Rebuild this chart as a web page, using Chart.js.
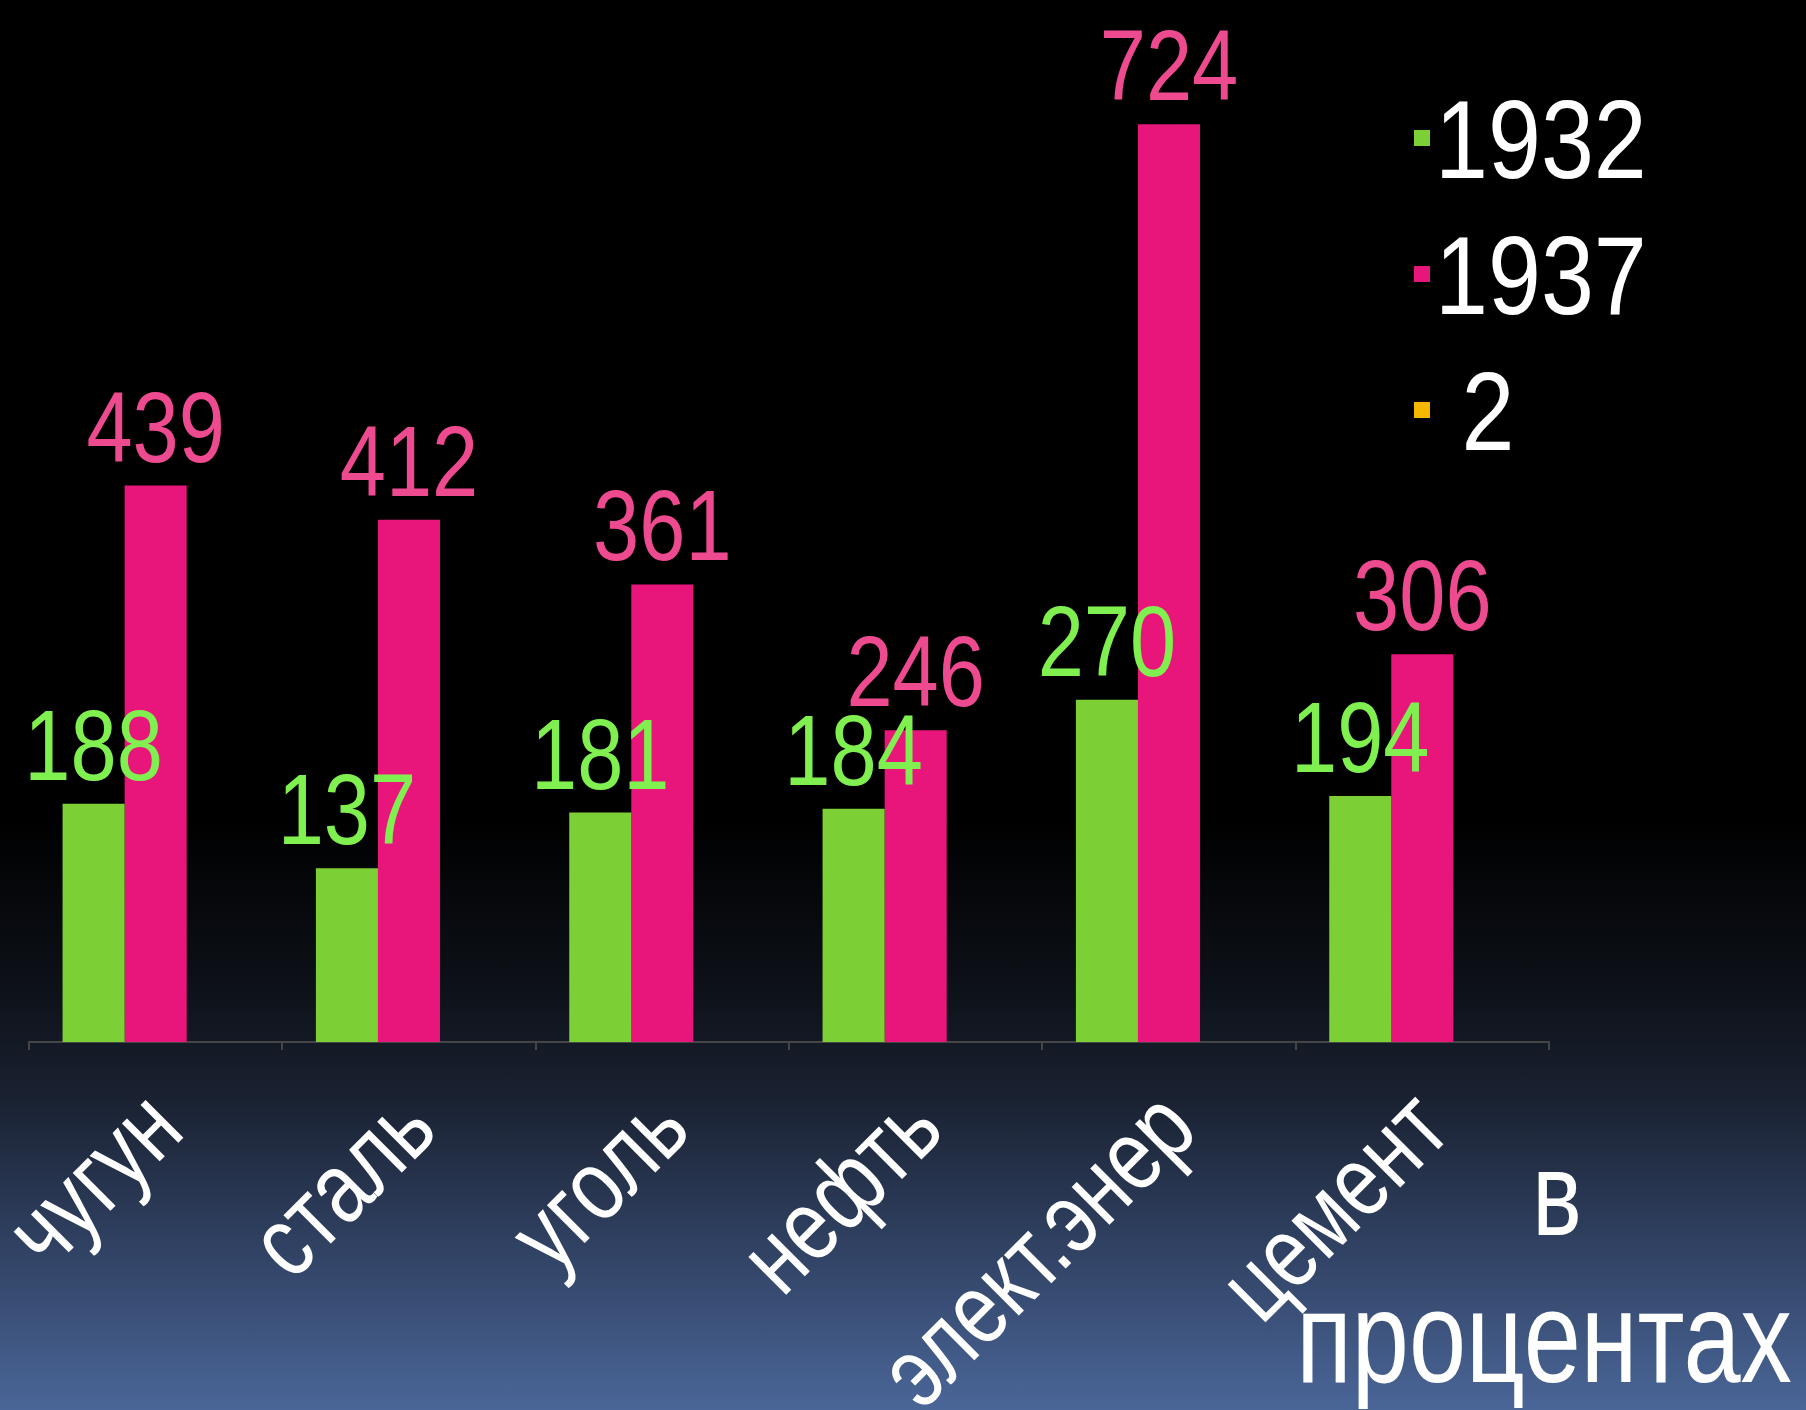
<!DOCTYPE html>
<html>
<head>
<meta charset="utf-8">
<script src="https://cdn.jsdelivr.net/npm/chart.js@4"></script>
<style>
  html, body { margin: 0; padding: 0; }
  body {
    width: 1806px; height: 1410px; overflow: hidden; position: relative;
    background: linear-gradient(to bottom, #000 0%, #000 58%, #0d1118 70%, #1a2232 78%, #2d3d5c 87%, #4a6698 100%);
    font-family: "Liberation Sans", Arial, sans-serif;
  }
  #wrap { position: absolute; left: 0; top: 0; width: 1806px; height: 1410px; }
  #legend { position: absolute; left: 1414px; top: 72px; color: #fff; }
  #legend .row { display: flex; align-items: center; height: 136px; }
  #legend .box { width: 16px; height: 16px; margin-right: 5px; margin-top: -4px; }
  #legend .txt { font-size: 112px; line-height: 1; white-space: pre; transform: scaleX(0.85); transform-origin: left center; }
  .unit {
    position: absolute; width: 800px; text-align: center; color: #fff; line-height: 1;
    transform: scaleX(0.79); transform-origin: center;
  }
</style>
</head>
<body>
<div id="wrap"><canvas id="chart" width="1806" height="1410"></canvas></div>
<div id="legend"></div>
<div class="unit" style="left:1157px; top:1135px; font-size:118px;">в</div>
<div class="unit" style="left:1144px; top:1272px; font-size:130px;">процентах</div>
<script>
const categories = ['чугун', 'сталь', 'уголь', 'нефть', 'элект.энер', 'цемент'];
const values1932 = [188, 137, 181, 184, 270, 194];
const values1937 = [439, 412, 361, 246, 724, 306];
const values2 = [null, null, null, null, null, null];
const seriesNames = ['1932', '1937', ' 2'];

const barColors = ['#7ccf34', '#e8157a', '#f5b800'];
const labelColors = ['#80f050', '#ee4a90', '#f5b800'];
const fontFamily = '"Liberation Sans", Arial, sans-serif';
const squeeze = 0.8; // the original slide text is horizontally compressed

// value labels drawn above each bar
const valueLabels = {
  id: 'valueLabels',
  afterDatasetsDraw(chart) {
    const ctx = chart.ctx;
    ctx.save();
    ctx.font = '100px ' + fontFamily;
    ctx.textAlign = 'center';
    ctx.textBaseline = 'alphabetic';
    chart.data.datasets.forEach((ds, i) => {
      const meta = chart.getDatasetMeta(i);
      meta.data.forEach((bar, j) => {
        if (ds.data[j] == null) return;
        ctx.save();
        ctx.translate(bar.x, bar.y - 24);
        ctx.scale(0.83, 1);
        ctx.fillStyle = labelColors[i];
        ctx.fillText(String(ds.data[j]), 0, 0);
        ctx.restore();
      });
    });
    ctx.restore();
  }
};

// rotated category labels under the x axis
const categoryLabels = {
  id: 'categoryLabels',
  afterDraw(chart) {
    const xs = chart.scales.x;
    const ctx = chart.ctx;
    ctx.save();
    ctx.font = '101px ' + fontFamily;
    ctx.fillStyle = '#ffffff';
    ctx.textAlign = 'right';
    ctx.textBaseline = 'middle';
    xs.ticks.forEach((t, i) => {
      const x = xs.getPixelForTick(i) + 12;
      const y = xs.top + 72;
      ctx.save();
      ctx.translate(x, y);
      ctx.rotate(-Math.PI / 4);
      ctx.scale(squeeze, 1);
      ctx.fillText(xs.getLabelForValue(t.value), 0, 0);
      ctx.restore();
    });
    ctx.restore();
  }
};

const seriesData = [values1932, values1937, values2];

new Chart(document.getElementById('chart'), {
  type: 'bar',
  data: {
    labels: categories,
    datasets: seriesData.map((d, i) => ({
      label: seriesNames[i],
      data: d,
      backgroundColor: barColors[i],
      borderWidth: 0,
      categoryPercentage: 0.735,
      barPercentage: 1
    }))
  },
  options: {
    responsive: false,
    animation: false,
    layout: { padding: { left: 29, right: 257, top: 28, bottom: 0 } },
    plugins: { legend: { display: false }, tooltip: { enabled: false } },
    scales: {
      x: {
        afterFit: (s) => { s.height = 368; s.paddingLeft = 0; s.paddingRight = 0; },
        border: { display: true, color: '#454545', width: 2 },
        grid: { display: true, drawOnChartArea: false, drawTicks: true, tickLength: 8, color: '#454545', lineWidth: 2 },
        ticks: { display: false, autoSkip: false }
      },
      y: { display: false, min: 0, max: 800 }
    }
  },
  plugins: [valueLabels, categoryLabels]
});

// legend
const $legend = document.getElementById('legend');
seriesNames.forEach((name, i) => {
  const row = document.createElement('div');
  row.className = 'row';
  row.innerHTML = `<span class="box" style="background:${barColors[i]}"></span><span class="txt">${name}</span>`;
  $legend.appendChild(row);
});
</script>
</body>
</html>
